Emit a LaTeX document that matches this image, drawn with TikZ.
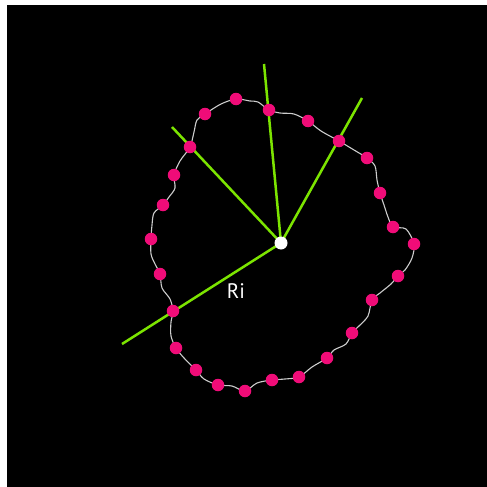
\documentclass[tikz,border=0pt]{standalone}
\usepackage{fontspec}
\setmainfont{PT Sans}
\definecolor{lime}{RGB}{124,228,0}
\definecolor{dotpink}{RGB}{240,12,120}
\definecolor{curvegray}{RGB}{205,205,205}
\tikzset{
  pdot/.style={circle,fill=dotpink,inner sep=0pt,minimum size=12.5pt},
  cdot/.style={circle,fill=white,inner sep=0pt,minimum size=13pt},
  ray/.style={lime,line width=2.5pt},
  contour/.style={curvegray,line width=1.1pt}
}
\begin{document}
\begin{tikzpicture}[x=1pt,y=-1pt]
\useasboundingbox (0,0) rectangle (487,487);
\fill[white] (0,0) rectangle (487,487);
\fill[black] (7,5) rectangle (487,487);
% contour
\draw[contour] plot[smooth cycle, tension=0.5] coordinates {
(236,99) (250,101) (258,102) (269,110) (280,113) (294,114) (308,121) (321,131) (339,141) (354,150) (367,158) (375,166) (377,180) (380,193) (384,205) (388,217) (393,227) (406,229) (414,244) (412,258) (405,270) (398,276) (391,284) (380,293) (372,300) (368,316) (359,326) (352,333) (346,344) (334,350) (327,358) (312,367) (299,377) (285,379) (272,380) (257,383) (245,391) (232,386) (218,385) (204,379) (196,370) (184,358) (176,348) (171,336) (171,322) (173,311) (170,299) (162,288) (160,274) (155,264) (151,254) (151,239) (152,225) (154,213) (163,205) (169,197) (175,188) (174,175) (180,161) (190,147) (194,132) (197,120) (205,114) (221,104)};
% ray ends
\coordinate (e1) at (264,64);
\coordinate (e2) at (362,98);
\coordinate (e3) at (172,127);
\coordinate (e4) at (122,344);
\coordinate (c0) at (281,243);
\draw[ray] (c0) -- (e1);
\draw[ray] (c0) -- (e2);
\draw[ray] (c0) -- (e3);
\draw[ray] (c0) -- (e4);
% dots
\node[pdot] (d1) at (236,99) {};
\node[pdot] (d2) at (205,114) {};
\node[pdot] (d3) at (269,110) {};
\node[pdot] (d4) at (308,121) {};
\node[pdot] (d5) at (339,141) {};
\node[pdot] (d6) at (367,158) {};
\node[pdot] (d7) at (380,193) {};
\node[pdot] (d8) at (393,227) {};
\node[pdot] (d9) at (414,244) {};
\node[pdot] (d10) at (398,276) {};
\node[pdot] (d11) at (372,300) {};
\node[pdot] (d12) at (352,333) {};
\node[pdot] (d13) at (327,358) {};
\node[pdot] (d14) at (299,377) {};
\node[pdot] (d15) at (272,380) {};
\node[pdot] (d16) at (245,391) {};
\node[pdot] (d17) at (218,385) {};
\node[pdot] (d18) at (196,370) {};
\node[pdot] (d19) at (176,348) {};
\node[pdot] (d20) at (173,311) {};
\node[pdot] (d21) at (160,274) {};
\node[pdot] (d22) at (151,239) {};
\node[pdot] (d23) at (163,205) {};
\node[pdot] (d24) at (174,175) {};
\node[pdot] (d25) at (190,147) {};
\node[cdot] (c) at (c0) {};
\node[text=white,font=\fontsize{21}{21}\selectfont,inner sep=0pt,anchor=base] (ri) at (236,298) {Ri};
\end{tikzpicture}
\end{document}
